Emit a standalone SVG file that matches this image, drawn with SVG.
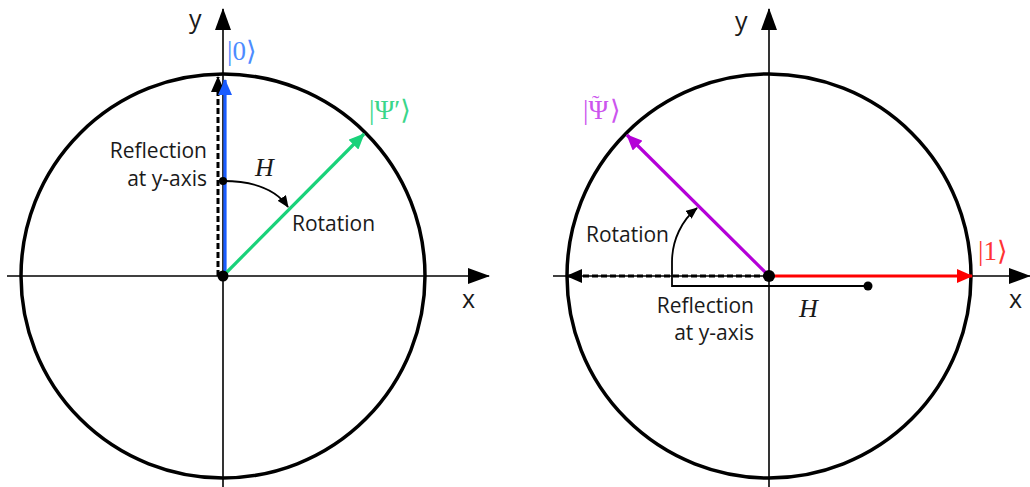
<svg xmlns="http://www.w3.org/2000/svg" width="1030" height="487" viewBox="0 0 1030 487">
<style>
.circ{fill:none;stroke:#000;stroke-width:3.5}
.axis{fill:none;stroke:#000;stroke-width:1.6}
.lbl{font-family:"Open Sans","Noto Sans",sans-serif;font-size:21px;fill:#1a1a1a}
.ax{font-family:"Open Sans","Noto Sans",sans-serif;font-size:25px;fill:#1a1a1a}
.ket{font-family:"Liberation Serif","DejaVu Serif",serif;font-size:27px}
.h{font-family:"Liberation Serif",serif;font-style:italic;font-size:26px;fill:#1a1a1a}
.vec{fill:none;stroke-width:3.2}
.dash{fill:none;stroke:#000;stroke-width:3;stroke-dasharray:6 3}
.thin{fill:none;stroke:#000;stroke-width:1.8}
</style>
<defs>
<marker id="axh" markerUnits="userSpaceOnUse" viewBox="0 0 22 16" refX="21" refY="8" markerWidth="22" markerHeight="16" orient="auto"><path d="M0,0 L22,8 L0,16 z" fill="#000"/></marker>
<marker id="hk" markerUnits="userSpaceOnUse" viewBox="0 0 16 14" refX="15" refY="7" markerWidth="16" markerHeight="14" orient="auto"><path d="M0,0 L16,7 L0,14 z" fill="#000"/></marker>
<marker id="hg" markerUnits="userSpaceOnUse" viewBox="0 0 16 14" refX="15" refY="7" markerWidth="16" markerHeight="14" orient="auto"><path d="M0,0 L16,7 L0,14 z" fill="#19d27a"/></marker>
<marker id="hb" markerUnits="userSpaceOnUse" viewBox="0 0 16 14" refX="15" refY="7" markerWidth="16" markerHeight="14" orient="auto"><path d="M0,0 L16,7 L0,14 z" fill="#1a5cff"/></marker>
<marker id="hp" markerUnits="userSpaceOnUse" viewBox="0 0 16 14" refX="15" refY="7" markerWidth="16" markerHeight="14" orient="auto"><path d="M0,0 L16,7 L0,14 z" fill="#b400d8"/></marker>
<marker id="hr" markerUnits="userSpaceOnUse" viewBox="0 0 16 14" refX="15" refY="7" markerWidth="16" markerHeight="14" orient="auto"><path d="M0,0 L16,7 L0,14 z" fill="#ff0000"/></marker>
<marker id="hs" markerUnits="userSpaceOnUse" viewBox="0 0 12 10" refX="11" refY="5" markerWidth="12" markerHeight="10" orient="auto"><path d="M0,0 L12,5 L0,10 z" fill="#000"/></marker>
</defs>

<g id="left">
  <circle class="circ" cx="223" cy="276" r="202"/>
  <g id="left-axes">
    <line class="axis" x1="7" y1="276" x2="489" y2="276" marker-end="url(#axh)"/>
    <line class="axis" x1="223" y1="487" x2="223" y2="9" marker-end="url(#axh)"/>
    <text class="ax" x="189" y="28">y</text>
    <text class="ax" x="462" y="308">x</text>
  </g>
</g>

<g id="right">
  <circle class="circ" cx="769" cy="276" r="202"/>
  <g id="right-axes">
    <line class="axis" x1="553" y1="276" x2="1030" y2="276" marker-end="url(#axh)"/>
    <line class="axis" x1="769" y1="487" x2="769" y2="9" marker-end="url(#axh)"/>
    <text class="ax" x="735" y="30">y</text>
    <text class="ax" x="1009" y="308">x</text>
  </g>
</g>

<g id="connectors">
  <line class="dash" x1="218" y1="276" x2="218" y2="77" marker-end="url(#hk)"/>
  <line class="vec" stroke="#1a5cff" x1="225" y1="276" x2="225" y2="80" marker-end="url(#hb)"/>
  <line class="vec" stroke="#19d27a" x1="223" y1="276" x2="364" y2="134" marker-end="url(#hg)"/>
  <path class="thin" d="M223,181 C250,181 275,188 288,207" marker-end="url(#hs)"/>
  <line class="dash" x1="769" y1="276" x2="567" y2="276" marker-end="url(#hk)"/>
  <line class="vec" stroke="#ff0000" x1="769" y1="276" x2="972" y2="276" marker-end="url(#hr)"/>
  <line class="vec" stroke="#b400d8" x1="769" y1="276" x2="627" y2="135" marker-end="url(#hp)"/>
  <path class="thin" d="M868,286 H672 V262 C672,240 682,220 697,208" marker-end="url(#hs)"/>
</g>

<g id="points">
  <circle cx="223" cy="276" r="5.5" fill="#000"/>
  <circle cx="223" cy="181" r="4" fill="#000"/>
  <circle cx="769" cy="276" r="6" fill="#000"/>
  <circle cx="868" cy="286" r="4.5" fill="#000"/>
</g>

<g id="labels">
  <text class="ket" x="227" y="60" fill="#4d8cff">|0⟩</text>
  <text class="ket" x="369" y="119" fill="#3ad68a">|Ψ′⟩</text>
  <text class="ket" x="583" y="119" fill="#cc55ee">|Ψ<tspan x="592" dy="-9" style="font-size:22px">˜</tspan><tspan x="610" dy="9">⟩</tspan></text>
  <text class="ket" x="978" y="260" fill="#ff3333">|1⟩</text>
  <text class="h" x="255" y="176">H</text>
  <text class="h" x="799" y="317">H</text>
  <text class="lbl" x="207" y="158" text-anchor="end">Reflection</text>
  <text class="lbl" x="207" y="186" text-anchor="end">at y-axis</text>
  <text class="lbl" x="292" y="231">Rotation</text>
  <text class="lbl" x="669" y="242" text-anchor="end">Rotation</text>
  <text class="lbl" x="754" y="313" text-anchor="end">Reflection</text>
  <text class="lbl" x="754" y="340" text-anchor="end">at y-axis</text>
</g>
</svg>
